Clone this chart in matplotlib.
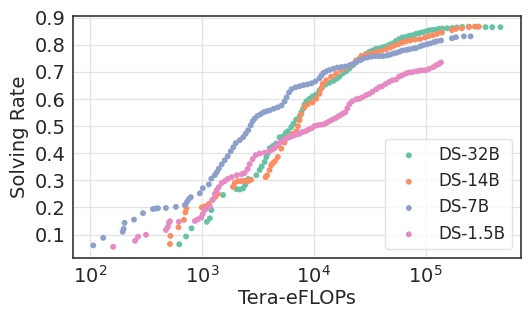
import matplotlib
matplotlib.use("Agg")
import matplotlib.pyplot as plt
import numpy as np

# values; flops kept as log10(Tera-eFLOPs)
ds32b_log_flops = [2.796, 2.857, 2.906, 3.043, 3.070, 3.083, 3.188, 3.307, 3.337, 3.366,
                   3.386, 3.399, 3.413, 3.486, 3.515, 3.533, 3.560, 3.575, 3.589, 3.604,
                   3.634, 3.664, 3.693, 3.723, 3.747, 3.767, 3.798, 3.818, 3.842, 3.872,
                   3.889, 3.903, 3.916, 3.934, 3.961, 3.990, 4.021, 4.050, 4.077, 4.108,
                   4.139, 4.175, 4.201, 4.228, 4.258, 4.288, 4.318, 4.347, 4.377, 4.406,
                   4.436, 4.466, 4.496, 4.525, 4.555, 4.585, 4.614, 4.644, 4.674, 4.703,
                   4.734, 4.763, 4.792, 4.823, 4.852, 4.881, 4.912, 4.941, 4.971, 5.001,
                   5.030, 5.060, 5.090, 5.119, 5.149, 5.191, 5.238, 5.280, 5.327, 5.387,
                   5.461, 5.536, 5.595, 5.669]
ds32b_rate = [0.064, 0.093, 0.123, 0.147, 0.160, 0.190, 0.246, 0.268, 0.266, 0.270,
              0.283, 0.294, 0.305, 0.319, 0.338, 0.351, 0.368, 0.386, 0.400, 0.418,
              0.427, 0.436, 0.459, 0.461, 0.474, 0.481, 0.496, 0.509, 0.524, 0.536,
              0.551, 0.564, 0.579, 0.592, 0.601, 0.610, 0.617, 0.632, 0.645, 0.654,
              0.660, 0.667, 0.674, 0.682, 0.694, 0.702, 0.712, 0.724, 0.735, 0.748,
              0.757, 0.766, 0.774, 0.779, 0.785, 0.786, 0.791, 0.794, 0.800, 0.805,
              0.814, 0.821, 0.827, 0.829, 0.833, 0.835, 0.840, 0.843, 0.846, 0.849,
              0.853, 0.855, 0.856, 0.859, 0.860, 0.861, 0.862, 0.864, 0.866, 0.867,
              0.867, 0.865, 0.865, 0.865]

ds14b_log_flops = [2.713, 2.717, 2.789, 2.838, 2.851, 2.860, 2.998, 3.025, 3.061, 3.092,
                   3.119, 3.141, 3.277, 3.292, 3.319, 3.350, 3.381, 3.413, 3.439, 3.569,
                   3.582, 3.604, 3.619, 3.635, 3.653, 3.678, 3.709, 3.738, 3.767, 3.809,
                   3.845, 3.858, 3.872, 3.887, 3.916, 3.947, 3.988, 4.021, 4.050, 4.065,
                   4.079, 4.110, 4.154, 4.199, 4.243, 4.288, 4.332, 4.377, 4.424, 4.469,
                   4.513, 4.558, 4.602, 4.647, 4.683, 4.718, 4.754, 4.790, 4.825, 4.861,
                   4.906, 4.950, 4.995, 5.030, 5.066, 5.102, 5.146, 5.235, 5.271, 5.324,
                   5.387, 5.440, 5.476]
ds14b_rate = [0.065, 0.095, 0.127, 0.154, 0.182, 0.197, 0.200, 0.204, 0.213, 0.228,
              0.239, 0.250, 0.276, 0.290, 0.297, 0.297, 0.298, 0.297, 0.302, 0.312,
              0.318, 0.338, 0.356, 0.364, 0.371, 0.386, 0.417, 0.439, 0.459, 0.472,
              0.481, 0.500, 0.522, 0.544, 0.569, 0.581, 0.588, 0.601, 0.619, 0.638,
              0.656, 0.669, 0.682, 0.693, 0.706, 0.715, 0.726, 0.742, 0.759, 0.764,
              0.768, 0.773, 0.777, 0.783, 0.790, 0.796, 0.802, 0.808, 0.813, 0.816,
              0.819, 0.821, 0.827, 0.832, 0.835, 0.840, 0.845, 0.854, 0.859, 0.861,
              0.865, 0.867, 0.867]

ds7b_log_flops = [2.027, 2.116, 2.290, 2.299, 2.307, 2.392, 2.472, 2.561, 2.588, 2.606,
                  2.677, 2.766, 2.847, 2.865, 2.882, 2.900, 2.980, 3.007, 3.061, 3.083,
                  3.114, 3.132, 3.150, 3.176, 3.203, 3.230, 3.257, 3.279, 3.301, 3.337,
                  3.368, 3.390, 3.413, 3.435, 3.453, 3.471, 3.497, 3.524, 3.551, 3.578,
                  3.604, 3.640, 3.676, 3.711, 3.738, 3.756, 3.778, 3.800, 3.836, 3.872,
                  3.907, 3.943, 3.979, 4.014, 4.050, 4.068, 4.086, 4.112, 4.139, 4.175,
                  4.210, 4.246, 4.282, 4.318, 4.353, 4.380, 4.416, 4.442, 4.478, 4.513,
                  4.549, 4.585, 4.620, 4.656, 4.683, 4.709, 4.736, 4.763, 4.790, 4.825,
                  4.852, 4.888, 4.914, 4.950, 4.977, 5.012, 5.039, 5.075, 5.102, 5.137,
                  5.235, 5.271, 5.342, 5.402]
ds7b_rate = [0.060, 0.088, 0.110, 0.121, 0.143, 0.155, 0.179, 0.194, 0.196, 0.197,
             0.198, 0.202, 0.209, 0.220, 0.231, 0.238, 0.252, 0.271, 0.285, 0.306,
             0.319, 0.330, 0.343, 0.359, 0.374, 0.389, 0.407, 0.422, 0.437, 0.448,
             0.459, 0.472, 0.485, 0.503, 0.518, 0.528, 0.538, 0.544, 0.551, 0.555,
             0.558, 0.564, 0.569, 0.576, 0.591, 0.606, 0.624, 0.636, 0.643, 0.647,
             0.651, 0.654, 0.658, 0.665, 0.676, 0.687, 0.696, 0.702, 0.707, 0.712,
             0.716, 0.718, 0.720, 0.724, 0.730, 0.736, 0.743, 0.749, 0.753, 0.756,
             0.758, 0.758, 0.758, 0.761, 0.764, 0.768, 0.770, 0.774, 0.779, 0.781,
             0.783, 0.786, 0.788, 0.794, 0.798, 0.802, 0.805, 0.810, 0.813, 0.816,
             0.824, 0.828, 0.831, 0.831]

ds15b_log_flops = [2.205, 2.401, 2.428, 2.499, 2.677, 2.695, 2.704, 2.713, 2.793, 2.936,
                   2.963, 2.994, 3.007, 3.025, 3.043, 3.070, 3.096, 3.114, 3.132, 3.150,
                   3.176, 3.203, 3.230, 3.266, 3.310, 3.355, 3.381, 3.408, 3.426, 3.453,
                   3.480, 3.515, 3.560, 3.604, 3.627, 3.649, 3.671, 3.693, 3.716, 3.738,
                   3.760, 3.783, 3.805, 3.827, 3.849, 3.872, 3.898, 3.925, 3.952, 3.979,
                   4.005, 4.032, 4.059, 4.086, 4.112, 4.139, 4.166, 4.193, 4.215, 4.237,
                   4.259, 4.282, 4.300, 4.318, 4.344, 4.380, 4.406, 4.434, 4.466, 4.496,
                   4.525, 4.558, 4.585, 4.611, 4.644, 4.674, 4.703, 4.736, 4.763, 4.790,
                   4.823, 4.852, 4.881, 4.914, 4.941, 4.968, 5.001, 5.030, 5.066, 5.093,
                   5.120, 5.137]
ds15b_rate = [0.055, 0.077, 0.092, 0.099, 0.117, 0.128, 0.143, 0.149, 0.147, 0.150,
              0.156, 0.163, 0.176, 0.191, 0.198, 0.204, 0.228, 0.250, 0.264, 0.275,
              0.290, 0.297, 0.305, 0.312, 0.319, 0.323, 0.327, 0.342, 0.360, 0.378,
              0.393, 0.399, 0.402, 0.408, 0.413, 0.419, 0.428, 0.437, 0.445, 0.452,
              0.456, 0.459, 0.463, 0.466, 0.470, 0.472, 0.478, 0.481, 0.487, 0.492,
              0.500, 0.503, 0.505, 0.506, 0.512, 0.518, 0.524, 0.529, 0.535, 0.540,
              0.546, 0.551, 0.566, 0.581, 0.592, 0.599, 0.601, 0.606, 0.614, 0.619,
              0.627, 0.636, 0.644, 0.647, 0.656, 0.663, 0.669, 0.672, 0.683, 0.687,
              0.694, 0.698, 0.699, 0.702, 0.704, 0.706, 0.706, 0.711, 0.717, 0.724,
              0.729, 0.735]

labels = ["DS-32B", "DS-14B", "DS-7B", "DS-1.5B"]
colors = ["#66c2a5", "#fc8d62", "#8da0cb", "#e78ac3"]
series = [(ds32b_log_flops, ds32b_rate), (ds14b_log_flops, ds14b_rate),
          (ds7b_log_flops, ds7b_rate), (ds15b_log_flops, ds15b_rate)]
yticks = [0.1, 0.2, 0.3, 0.4, 0.5, 0.6, 0.7, 0.8, 0.9]

text_color = "#262626"
plt.rcParams["font.family"] = "DejaVu Sans"

fig = plt.figure(figsize=(5.32, 3.19), dpi=100)
ax = fig.add_axes([0.137, 0.192, 0.842, 0.759])

for (lf, rate), lab, col in zip(series, labels, colors):
    ax.scatter(10 ** np.array(lf), rate, s=18, color=col, edgecolors="none", label=lab, zorder=3)

ax.set_xscale("log")
ax.set_yticks(yticks)
ax.set_yticklabels([f"{t:.1f}" for t in yticks])
ax.grid(True, which="major", color="#e3e3e3", linewidth=0.9, zorder=0)
ax.tick_params(which="both", length=0, labelsize=14, labelcolor=text_color, pad=5)
for sp in ax.spines.values():
    sp.set_color("#333333")
    sp.set_linewidth(1.2)

ax.set_xlabel("Tera-eFLOPs", fontsize=14, color=text_color, labelpad=2)
ax.set_ylabel("Solving Rate", fontsize=14, color=text_color, labelpad=4)

leg = ax.legend(loc="lower right", fontsize=12, scatterpoints=1, frameon=True, fancybox=True)
leg.get_frame().set_edgecolor("#dddddd")
for t in leg.get_texts():
    t.set_color(text_color)

fig.savefig("out.png", dpi=100)
